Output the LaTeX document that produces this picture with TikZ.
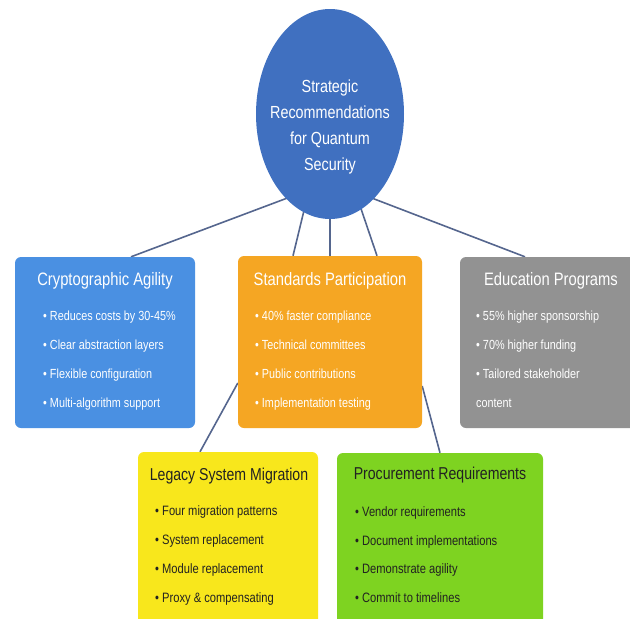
\documentclass[tikz,border=0pt]{standalone}
\usepackage{fontspec}
\setmainfont[FakeStretch=0.82]{Liberation Sans}
\usetikzlibrary{shapes.geometric,calc,backgrounds}
\definecolor{rootblue}{HTML}{4070C0}
\definecolor{cblue}{HTML}{4A90E2}
\definecolor{corange}{HTML}{F5A623}
\definecolor{cgray}{HTML}{929292}
\definecolor{cyellow}{HTML}{F8E71C}
\definecolor{cgreen}{HTML}{7ED321}
\definecolor{linecol}{HTML}{55668E}
\definecolor{darktext}{HTML}{222222}
\begin{document}
\begin{tikzpicture}[x=1pt,y=-1pt,
  box/.style={rectangle, rounded corners=6pt, inner sep=0pt, draw=none},
  roottext/.style={font=\fontsize{17.5}{20}\selectfont, text=white, inner sep=0pt, anchor=base},
  title/.style={font=\fontsize{18}{20}\selectfont, inner sep=0pt, anchor=base},
  darktitle/.style={font=\fontsize{17.2}{20}\selectfont, inner sep=0pt, anchor=base, text=darktext},
  item/.style={font=\fontsize{13.2}{15}\selectfont, inner sep=0pt, anchor=base west},
  darkitem/.style={font=\fontsize{13.6}{15}\selectfont, inner sep=0pt, anchor=base west, text=darktext},
  conn/.style={draw=linecol, line width=1.6pt}]
\useasboundingbox (0,0) rectangle (630,619);

% root ellipse
\node[ellipse, fill=rootblue, minimum width=148pt, minimum height=210pt, inner sep=0pt] (root) at (330,114) {};
\node[roottext] (root1) at (330,92) {Strategic};
\node[roottext] (root2) at (330,118) {Recommendations};
\node[roottext] (root3) at (330,144) {for Quantum};
\node[roottext] (root4) at (330,170) {Security};

% boxes
\node[box, fill=cblue, minimum width=180pt, minimum height=171pt] (crypto) at (105,342.5) {};
\node[box, fill=corange, minimum width=184pt, minimum height=172pt] (stand) at (330,342) {};
\node[box, fill=cgray, minimum width=180pt, minimum height=171pt] (edu) at (550,342.5) {};
\node[box, fill=cyellow, minimum width=180pt, minimum height=190pt] (legacy) at (228,547) {};
\node[box, fill=cgreen, minimum width=206pt, minimum height=190pt] (procure) at (440,548) {};

% Cryptographic Agility
\node[title, text=white] (crypto-t) at (105,285) {Cryptographic Agility};
\node[item, text=white] (crypto-1) at (43,320) {• Reduces costs by 30-45\%};
\node[item, text=white] (crypto-2) at (43,349) {• Clear abstraction layers};
\node[item, text=white] (crypto-3) at (43,378) {• Flexible configuration};
\node[item, text=white] (crypto-4) at (43,407) {• Multi-algorithm support};

% Standards Participation
\node[title, text=white] (stand-t) at (330,285) {Standards Participation};
\node[item, text=white] (stand-1) at (255,320) {• 40\% faster compliance};
\node[item, text=white] (stand-2) at (255,349) {• Technical committees};
\node[item, text=white] (stand-3) at (255,378) {• Public contributions};
\node[item, text=white] (stand-4) at (255,407) {• Implementation testing};

% Education Programs
\node[title, text=white] (edu-t) at (551,285) {Education Programs};
\node[item, text=white] (edu-1) at (476,320) {• 55\% higher sponsorship};
\node[item, text=white] (edu-2) at (476,349) {• 70\% higher funding};
\node[item, text=white] (edu-3) at (476,378) {• Tailored stakeholder};
\node[item, text=white] (edu-4) at (476,407) {content};

% Legacy System Migration
\node[darktitle] (legacy-t) at (229,480) {Legacy System Migration};
\node[darkitem] (legacy-1) at (155,515) {• Four migration patterns};
\node[darkitem] (legacy-2) at (155,544) {• System replacement};
\node[darkitem] (legacy-3) at (155,573) {• Module replacement};
\node[darkitem] (legacy-4) at (155,602) {• Proxy \& compensating};

% Procurement Requirements
\node[darktitle] (procure-t) at (440,479) {Procurement Requirements};
\node[darkitem] (procure-1) at (355,516) {• Vendor requirements};
\node[darkitem] (procure-2) at (355,545) {• Document implementations};
\node[darkitem] (procure-3) at (355,573) {• Demonstrate agility};
\node[darkitem] (procure-4) at (355,602) {• Commit to timelines};

% connectors (behind the shapes)
\begin{scope}[on background layer]
\fill[white] (0,0) rectangle (630,619);
\draw[conn] ($(root.center)+(0,68)$) -- ($(crypto.north)+(26,0)$);
\draw[conn] ($(root.center)+(-22,80)$) -- ($(stand.north)+(-37,0)$);
\draw[conn] ($(root.center)+(0,80)$) -- (stand.north);
\draw[conn] ($(root.center)+(26,80)$) -- ($(stand.north)+(47,0)$);
\draw[conn] ($(root.center)+(0,68)$) -- ($(edu.north)+(-25,0)$);
\draw[conn] ($(stand.west)+(0,41)$) -- ($(legacy.north)+(-28,0)$);
\draw[conn] ($(stand.east)+(0,44)$) -- (procure.north);
\end{scope}
\end{tikzpicture}
\end{document}
